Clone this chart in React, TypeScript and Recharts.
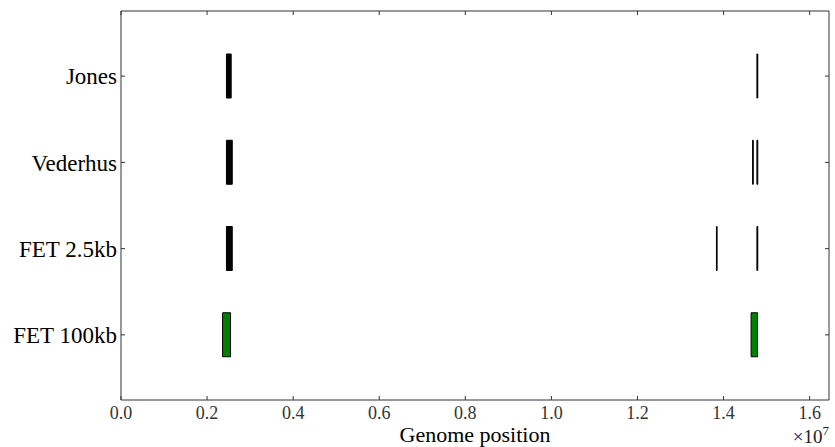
import { ComposedChart, Bar, Cell, XAxis, YAxis, Label } from "recharts";

// rows, top to bottom
const rows = ["Jones", "Vederhus", "FET 2.5kb", "FET 100kb"];
const rowColors = ["#000000", "#000000", "#000000", "#008000"];

// [start, end] genome positions per row
const leftBlock: ([number, number] | null)[] = [
  [2450000, 2560000],
  [2450000, 2585000],
  [2450000, 2585000],
  [2360000, 2545000],
];
const rightBlockA: ([number, number] | null)[] = [
  [14775000, 14795000],
  [14675000, 14690000],
  [13835000, 13850000],
  [14640000, 14790000],
];
const rightBlockB: ([number, number] | null)[] = [
  null,
  [14775000, 14795000],
  [14775000, 14795000],
  null,
];

const xTicks = [0, 2e6, 4e6, 6e6, 8e6, 10e6, 12e6, 14e6, 16e6];
const xMax = 16450000;

const chartData = rows.map((name, i) => ({
  name,
  left: leftBlock[i],
  rightA: rightBlockA[i],
  rightB: rightBlockB[i],
}));

const FONT = "'Liberation Serif', serif";
const BAR = 44;

const AxisCaption = (props: any) => {
  const { x, y, width } = props.viewBox;
  return (
    <g>
      <text x={x + width / 2} y={y + 42} textAnchor="middle" fontFamily={FONT} fontSize={22} fill="#000">
        Genome position
      </text>
      <text x={x + width} y={y + 43} textAnchor="end" fontFamily={FONT} fontSize={19} fill="#222">
        ×10<tspan dy={-8} fontSize={13}>7</tspan>
      </text>
    </g>
  );
};

const NoTick = () => <g />;

export default function App() {
  const series = ["left", "rightA", "rightB"];
  return (
    <div style={{ position: "absolute", left: 0, top: 0 }}>
      <ComposedChart
        width={835}
        height={447}
        data={chartData}
        layout="vertical"
        barGap={-BAR}
        margin={{ top: 10, right: 5, bottom: 0, left: 0 }}
      >
        <XAxis
          type="number"
          domain={[0, xMax]}
          ticks={xTicks}
          allowDataOverflow
          height={47}
          tickSize={-4}
          tickMargin={10}
          tickFormatter={(v: number) => (v / 1e7).toFixed(1)}
          tick={{ fontFamily: FONT, fontSize: 18, fill: "#333" }}
          stroke="#333"
        >
          <Label content={<AxisCaption />} />
        </XAxis>
        <XAxis
          xAxisId="top"
          orientation="top"
          type="number"
          domain={[0, xMax]}
          ticks={xTicks}
          allowDataOverflow
          height={1}
          tickSize={-4}
          tick={<NoTick />}
          stroke="#333"
        />
        <YAxis
          type="category"
          dataKey="name"
          width={121}
          padding={{ top: 22, bottom: 22 }}
          tickSize={-4}
          tickMargin={8}
          tick={{ fontFamily: FONT, fontSize: 23, fill: "#000" }}
          stroke="#333"
        />
        <YAxis
          yAxisId="right"
          orientation="right"
          type="category"
          dataKey="name"
          width={1}
          padding={{ top: 22, bottom: 22 }}
          tickSize={-4}
          tick={<NoTick />}
          stroke="#333"
        />
        {series.map((key) => (
          <Bar
            key={key}
            dataKey={key}
            barSize={BAR}
            stroke="#000"
            strokeWidth={1}
            isAnimationActive={false}
          >
            {rows.map((r, i) => (
              <Cell key={r} fill={rowColors[i]} />
            ))}
          </Bar>
        ))}
      </ComposedChart>
    </div>
  );
}
